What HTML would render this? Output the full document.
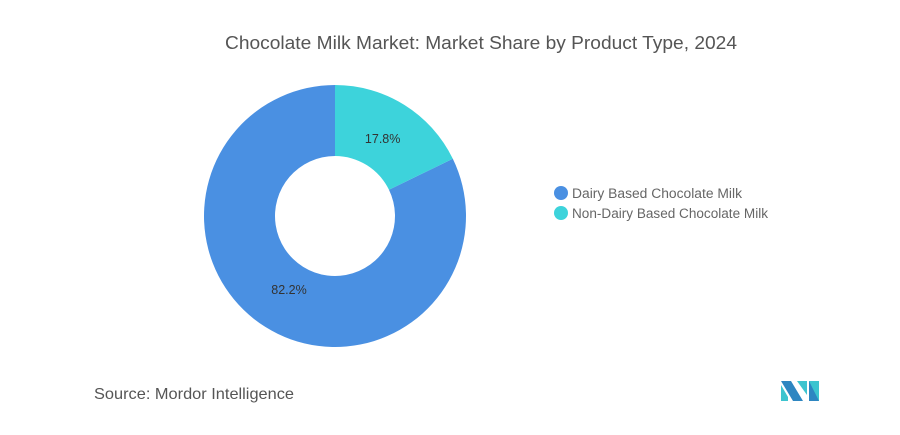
<!DOCTYPE html>
<html><head><meta charset="utf-8"><style>
body{margin:0;width:900px;height:430px;background:#fff;font-family:"Liberation Sans",sans-serif;overflow:hidden}
</style></head><body>
<svg width="900" height="430" id="chart">
<text x="225" y="49" textLength="512" lengthAdjust="spacingAndGlyphs" font-size="18" fill="#555">Chocolate Milk Market: Market Share by Product Type, 2024</text>
<g id="donut"></g>
<g>
<g><circle cx="561" cy="193" r="7" fill="#4a90e2"/><text x="572" y="198" font-size="13.5" textLength="170" lengthAdjust="spacingAndGlyphs" fill="#666">Dairy Based Chocolate Milk</text></g>
<g><circle cx="561" cy="213" r="7" fill="#3dd3db"/><text x="572" y="218" font-size="13.5" textLength="196" lengthAdjust="spacingAndGlyphs" fill="#666">Non-Dairy Based Chocolate Milk</text></g>
</g>
<text x="94" y="399" font-size="16" fill="#555" textLength="200" lengthAdjust="spacingAndGlyphs">Source:  Mordor Intelligence</text>
<g>
<polygon points="781,381 791,381 803,401 793,401" fill="#2e86c1"/>
<polygon points="781,385 788,397 788,401 781,401" fill="#3dc4cf"/>
<polygon points="797,381 807,381 807,395" fill="#3dc4cf"/>
<polygon points="809,381 819,381 819,401 809,401" fill="#2e86c1"/>
<polygon points="809,381 819,401 819,381" fill="#3dc4cf"/>
</g>
</svg>
<script>
const categories=["Dairy Based Chocolate Milk","Non-Dairy Based Chocolate Milk"];
const values=[82.2,17.8];
const labels=["82.2%","17.8%"];
const colors=["#4a90e2","#3dd3db"];
const cx=335,cy=216,R=131,r=60;
const g=document.getElementById('donut');
const ns="http://www.w3.org/2000/svg";
const total=values.reduce((a,b)=>a+b,0);
let start=values[1]/total*2*Math.PI;
const order=[0,1];
function pt(a,rad){return [cx+rad*Math.sin(a),cy-rad*Math.cos(a)];}
order.forEach(i=>{
  const sweep=values[i]/total*2*Math.PI;
  const a0=start,a1=start+sweep;
  const large=sweep>Math.PI?1:0;
  const p0=pt(a0,R),p1=pt(a1,R),q1=pt(a1,r),q0=pt(a0,r);
  const p=document.createElementNS(ns,'path');
  p.setAttribute('d',`M${p0[0]},${p0[1]}A${R},${R} 0 ${large} 1 ${p1[0]},${p1[1]}L${q1[0]},${q1[1]}A${r},${r} 0 ${large} 0 ${q0[0]},${q0[1]}Z`);
  p.setAttribute('fill',colors[i]);
  
  
  g.appendChild(p);
  const mid=(a0+a1)/2;
  const lp=pt(mid,(R+r)/2);
  let lx=lp[0]-3,ly=lp[1]+4;
  if(i===0){lx=289;ly=290;}
  const t=document.createElementNS(ns,'text');
  t.setAttribute('x',lx);t.setAttribute('y',ly+4);
  t.setAttribute('text-anchor','middle');t.setAttribute('font-size','12.5');t.setAttribute('fill','#333');
  t.textContent=labels[i];
  
  
  g.appendChild(t);
  start=a1;
});
</script>
</body></html>
